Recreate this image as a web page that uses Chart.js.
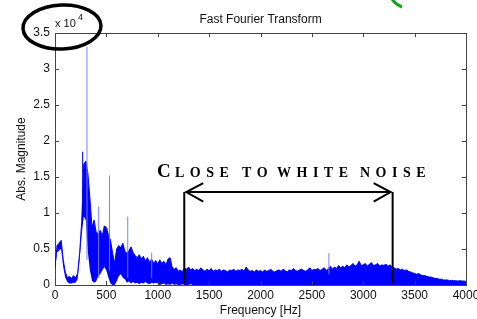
<!DOCTYPE html>
<html>
<head>
<meta charset="UTF-8">
<title>Fast Fourier Transform</title>
<script src="https://cdn.jsdelivr.net/npm/chart.js"></script>
<style>
  html, body { margin: 0; padding: 0; background: #fff; }
</style>
</head>
<body>
<canvas id="chart" width="477" height="319"></canvas>
<script>
// FFT magnitude (x 10^4), one value every 20 Hz, 0..4000 Hz
const binStep = 20;
const upperMag = [
  0.25, 0.55, 0.58, 0.62, 0.35, 0.18, 0.10, 0.12, 0.09, 0.13,
  0.10, 0.16, 0.45, 0.88, 1.68, 1.72, 1.55, 1.20, 0.80, 0.90,
  0.74, 0.70, 0.76, 0.68, 0.82, 0.80, 0.70, 0.62, 0.45, 0.30,
  0.50, 0.55, 0.52, 0.58, 0.47, 0.44, 0.48, 0.53, 0.45, 0.41,
  0.38, 0.42, 0.36, 0.40, 0.33, 0.38, 0.31, 0.36, 0.30, 0.34,
  0.29, 0.35, 0.30, 0.33, 0.28, 0.36, 0.38, 0.25, 0.22, 0.24,
  0.19, 0.21, 0.18, 0.24, 0.22, 0.25, 0.21, 0.23, 0.20, 0.22,
  0.20, 0.24, 0.21, 0.19, 0.22, 0.20, 0.23, 0.19, 0.21, 0.20,
  0.22, 0.19, 0.21, 0.20, 0.18, 0.21, 0.20, 0.22, 0.19, 0.21,
  0.20, 0.22, 0.19, 0.25, 0.21, 0.19, 0.20, 0.18, 0.21, 0.19,
  0.20, 0.18, 0.21, 0.19, 0.20, 0.22, 0.19, 0.18, 0.20, 0.21,
  0.19, 0.22, 0.20, 0.18, 0.21, 0.20, 0.23, 0.20, 0.19, 0.21,
  0.22, 0.20, 0.19, 0.21, 0.24, 0.20, 0.22, 0.21, 0.23, 0.20,
  0.22, 0.24, 0.20, 0.23, 0.26, 0.22, 0.25, 0.23, 0.27, 0.24,
  0.26, 0.24, 0.28, 0.25, 0.27, 0.30, 0.26, 0.28, 0.33, 0.27,
  0.28, 0.30, 0.26, 0.29, 0.31, 0.27, 0.28, 0.30, 0.26, 0.28,
  0.27, 0.29, 0.26, 0.28, 0.25, 0.24, 0.22, 0.23, 0.21, 0.22,
  0.20, 0.21, 0.19, 0.18, 0.17, 0.16, 0.15, 0.16, 0.14, 0.13,
  0.13, 0.12, 0.11, 0.11, 0.10, 0.09, 0.09, 0.08, 0.08, 0.07,
  0.07, 0.07, 0.06, 0.065, 0.06, 0.06, 0.055, 0.06, 0.055, 0.055,
  0.05
];
const lowerMag = [
  0.20, 0.45, 0.48, 0.50, 0.25, 0.10, 0.04, 0.02, 0.02, 0.03,
  0.03, 0.08, 0.35, 0.70, 0.95, 0.90, 0.45, 0.20, 0.06, 0.03,
  0.05, 0.12, 0.15, 0.20, 0.25, 0.20, 0.10, 0.02, 0, 0,
  0.05, 0.12, 0.15, 0.10, 0.08, 0.03, 0.05, 0.02, 0.04, 0.02,
  0.03, 0.01, 0.03, 0.02, 0.04, 0.02, 0.01, 0.03, 0.02, 0.03,
  0.02, 0, 0.01, 0.02, 0, 0.01, 0, 0.02, 0, 0.01,
  0, 0, 0.01, 0, 0, 0, 0.01, 0, 0, 0,
  0, 0, 0, 0, 0, 0, 0, 0, 0, 0,
  0, 0, 0, 0, 0, 0, 0, 0, 0, 0,
  0, 0, 0, 0, 0, 0, 0, 0, 0, 0,
  0, 0, 0, 0, 0, 0, 0, 0, 0, 0,
  0, 0, 0, 0, 0, 0, 0, 0, 0, 0,
  0, 0, 0, 0, 0, 0, 0, 0, 0, 0,
  0, 0, 0, 0, 0, 0, 0, 0, 0, 0,
  0, 0, 0, 0, 0, 0, 0, 0, 0, 0,
  0, 0, 0, 0, 0, 0, 0, 0, 0, 0,
  0, 0, 0, 0, 0, 0, 0, 0, 0, 0,
  0, 0, 0, 0, 0, 0, 0, 0, 0, 0,
  0, 0, 0, 0, 0, 0, 0, 0, 0, 0,
  0, 0, 0, 0, 0, 0, 0, 0, 0, 0,
  0
];
const freqs = upperMag.map((v, i) => i * binStep);

// isolated tonal peaks
const spikeFreq  = [269, 311, 425, 530, 708, 941, 2666];
const spikeTop   = [1.85, 3.31, 1.09, 1.52, 0.95, 0.45, 0.44];
const spikeBase  = [0.90, 0.35, 0.10, 0.20, 0.10, 0.10, 0.15];
const spikeColor = ['#0000ff', '#7b7bff', '#7b7bff', '#7b7bff', '#7b7bff', '#7b7bff', '#7b7bff'];

// axis ticks
const xTicks = [0, 500, 1000, 1500, 2000, 2500, 3000, 3500, 4000];
const yTicks = [0, 0.5, 1, 1.5, 2, 2.5, 3, 3.5];

// "close to white noise" band
const noiseBand = [1258, 3286];
const noiseArrowLevel = 1.29;

const spikeData = [];
spikeFreq.forEach((f, i) => {
    spikeData.push({x: f, y: spikeBase[i]}, {x: f, y: spikeTop[i]}, {x: f, y: null});
});

Chart.defaults.font.family = '"Liberation Sans", Arial, sans-serif';
Chart.defaults.font.size = 12;
Chart.defaults.color = '#111';

const decor = {
    id: 'decor',
    afterDraw(chart) {
        const ctx = chart.ctx;
        const a = chart.chartArea;
        const x = chart.scales.x, y = chart.scales.y;
        ctx.save();

        // box top / right + inward ticks
        ctx.strokeStyle = '#444';
        ctx.lineWidth = 1;
        ctx.beginPath();
        ctx.moveTo(a.left, a.top + 0.5);
        ctx.lineTo(a.right + 0.5, a.top + 0.5);
        ctx.lineTo(a.right + 0.5, a.bottom);
        for (const v of xTicks) {
            const px = Math.round(x.getPixelForValue(v)) + 0.5;
            ctx.moveTo(px, a.top); ctx.lineTo(px, a.top + 4);
            ctx.moveTo(px, a.bottom); ctx.lineTo(px, a.bottom - 4);
        }
        for (const v of yTicks) {
            const py = Math.round(y.getPixelForValue(v)) + 0.5;
            ctx.moveTo(a.left, py); ctx.lineTo(a.left + 4, py);
            ctx.moveTo(a.right, py); ctx.lineTo(a.right - 4, py);
        }
        ctx.stroke();

        // title + exponent
        ctx.fillStyle = '#111';
        ctx.font = '12px "Liberation Sans", Arial, sans-serif';
        ctx.textAlign = 'center';
        ctx.textBaseline = 'alphabetic';
        ctx.fillText('Fast Fourier Transform', (a.left + a.right) / 2, 23);
        ctx.textAlign = 'left';
        ctx.font = '11px "Liberation Sans", Arial, sans-serif';
        ctx.fillText('x 10', a.left, 27);
        ctx.font = '9px "Liberation Sans", Arial, sans-serif';
        ctx.fillText('4', a.left + 23, 20);

        // ellipse round the exponent
        ctx.strokeStyle = '#000';
        ctx.lineWidth = 3.5;
        ctx.beginPath();
        ctx.ellipse(62, 27, 39, 22, -0.04, 0, Math.PI * 2);
        ctx.stroke();

        // green pen mark at top
        ctx.strokeStyle = '#17a317';
        ctx.lineWidth = 3;
        ctx.beginPath();
        ctx.moveTo(392, -1);
        ctx.quadraticCurveTo(396, 5, 402, 7);
        ctx.stroke();

        // white-noise annotation
        const xl = x.getPixelForValue(noiseBand[0]);
        const xr = x.getPixelForValue(noiseBand[1]);
        const ya = y.getPixelForValue(noiseArrowLevel);
        const yb = y.getPixelForValue(0.02);
        ctx.strokeStyle = '#000';
        ctx.lineWidth = 2;
        ctx.beginPath();
        ctx.moveTo(xl, ya); ctx.lineTo(xl, yb);
        ctx.moveTo(xr, ya); ctx.lineTo(xr, yb);
        ctx.moveTo(xl + 2, ya); ctx.lineTo(xr - 2, ya);
        ctx.moveTo(xl + 19, ya - 9); ctx.lineTo(xl + 2, ya); ctx.lineTo(xl + 19, ya + 9.5);
        ctx.moveTo(xr - 19, ya - 9); ctx.lineTo(xr - 2, ya); ctx.lineTo(xr - 19, ya + 9.5);
        ctx.stroke();

        ctx.fillStyle = '#000';
        ctx.font = 'bold 19px "Liberation Serif", "Times New Roman", serif';
        ctx.fillText('C', 157, 177);
        ctx.font = 'bold 14px "Liberation Serif", "Times New Roman", serif';
        const words = [['LOSE', 175], ['TO', 242], ['WHITE', 277], ['NOISE', 360]];
        for (const [w, wx] of words) {
            let cx = wx;
            for (const ch of w) {
                ctx.fillText(ch, cx, 177);
                cx += ctx.measureText(ch).width + 5.5;
            }
        }
        ctx.restore();
    }
};

new Chart(document.getElementById('chart'), {
    type: 'line',
    data: {
        datasets: [
            {
                label: 'peaks',
                data: spikeData,
                borderWidth: 1,
                borderColor: '#7b7bff',
                segment: { borderColor: c => spikeColor[Math.floor(c.p0DataIndex / 3)] },
                pointRadius: 0,
                spanGaps: false,
                fill: false
            },
            {
                label: 'lower',
                data: freqs.map((f, i) => ({x: f, y: lowerMag[i]})),
                borderWidth: 0,
                borderColor: 'rgba(0,0,0,0)',
                pointRadius: 0,
                fill: false
            },
            {
                label: 'upper',
                data: freqs.map((f, i) => ({x: f, y: upperMag[i]})),
                borderWidth: 1,
                borderColor: '#0000ff',
                backgroundColor: '#0000ff',
                pointRadius: 0,
                fill: 1
            }
        ]
    },
    options: {
        responsive: false,
        animation: false,
        layout: { padding: { left: 0, right: 11, top: 33, bottom: 0 } },
        plugins: {
            legend: { display: false },
            tooltip: { enabled: false },
            title: { display: false }
        },
        elements: { line: { tension: 0 } },
        scales: {
            x: {
                type: 'linear',
                min: 0,
                max: 4000,
                z: 1,
                afterFit: s => { s.height = 34; s.paddingLeft = 0; s.paddingRight = 0; },
                afterBuildTicks: s => { s.ticks = xTicks.map(v => ({value: v})); },
                ticks: { padding: 3, maxRotation: 0, autoSkip: false, color: '#111', callback: v => String(v) },
                grid: { display: false, drawTicks: false },
                border: { display: true, color: '#444', width: 1 },
                title: { display: true, text: 'Frequency [Hz]', padding: { top: 0, bottom: 1 }, color: '#111' }
            },
            y: {
                min: 0,
                max: 3.5,
                z: 1,
                afterFit: s => { s.width = 55; },
                afterBuildTicks: s => { s.ticks = yTicks.map(v => ({value: v})); },
                ticks: { padding: 5, color: '#111', callback: v => String(v) },
                grid: { display: false, drawTicks: false },
                border: { display: true, color: '#444', width: 1 },
                title: { display: true, text: 'Abs. Magnitude', padding: { top: 14, bottom: 0 }, color: '#111' }
            }
        }
    },
    plugins: [decor]
});
</script>
</body>
</html>
